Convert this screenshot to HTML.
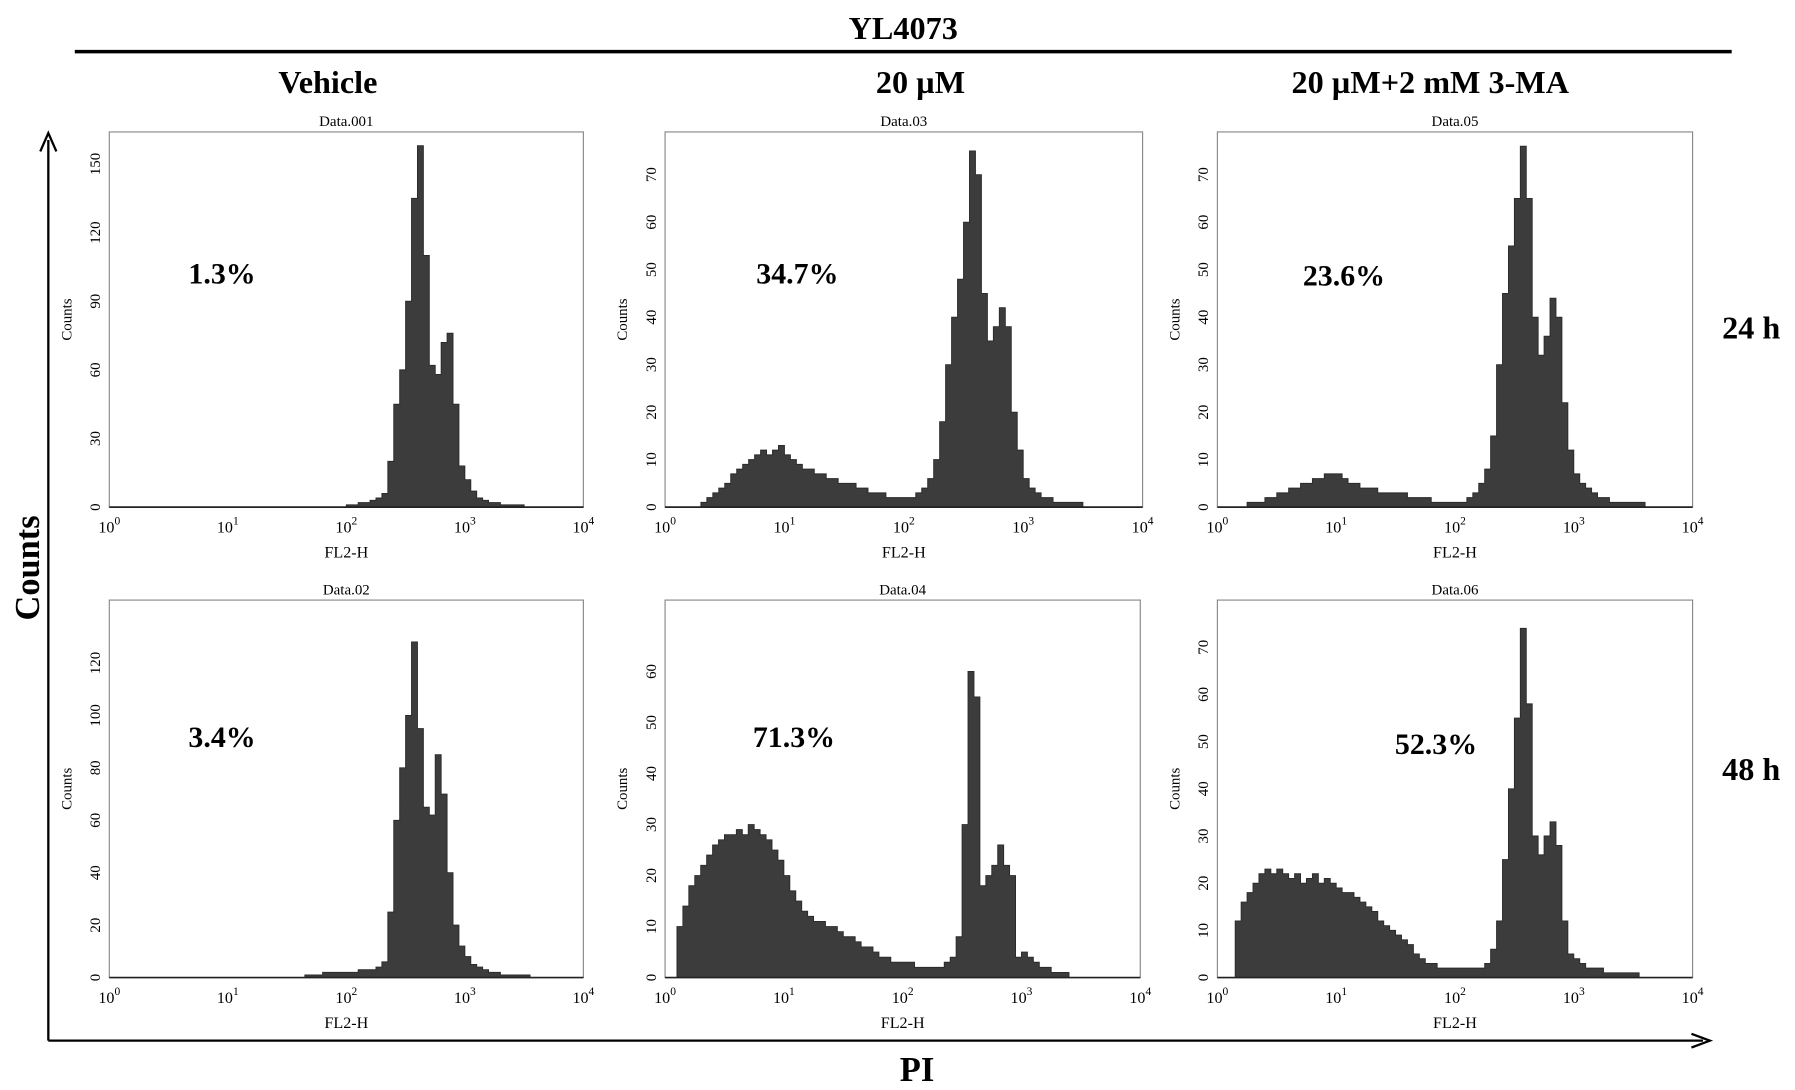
<!DOCTYPE html>
<html><head><meta charset="utf-8"><style>
html,body{margin:0;padding:0;background:#fff;}
svg{display:block;font-family:"Liberation Serif",serif;}
</style></head><body>
<svg id="fig" width="1795" height="1090" viewBox="0 0 1560 950" preserveAspectRatio="none">
<text x="785" y="34" text-anchor="middle" font-size="28" font-weight="bold">YL4073</text>
<line x1="65" y1="45" x2="1505" y2="45" stroke="#000" stroke-width="3"/>
<text x="285" y="81" text-anchor="middle" font-size="28" font-weight="bold">Vehicle</text>
<text x="800" y="81" text-anchor="middle" font-size="28" font-weight="bold">20 µM</text>
<text x="1243" y="81" text-anchor="middle" font-size="28" font-weight="bold">20 µM+2 mM 3-MA</text>
<text x="1522" y="295" text-anchor="middle" font-size="28" font-weight="bold">24 h</text>
<text x="1522" y="680" text-anchor="middle" font-size="28" font-weight="bold">48 h</text>
<line x1="42" y1="907" x2="42" y2="122" stroke="#000" stroke-width="2"/>
<path d="M35,132 L42,116 L49,132" fill="none" stroke="#000" stroke-width="2"/>
<line x1="42" y1="907" x2="1480" y2="907" stroke="#000" stroke-width="2"/>
<path d="M1470,901 L1486,907 L1470,913" fill="none" stroke="#000" stroke-width="2"/>
<text transform="translate(34,495) rotate(-90)" text-anchor="middle" font-size="30" font-weight="bold">Counts</text>
<text x="797" y="942" text-anchor="middle" font-size="30" font-weight="bold">PI</text>
<g id="panels"></g>
</svg>
<script>
const panelTitles = ["Data.001","Data.03","Data.05","Data.02","Data.04","Data.06"];
const panelPercents = ["1.3%","34.7%","23.6%","3.4%","71.3%","52.3%"];
const panelYMax = [164,79,79,144,74,80];
const panelYTickStep = [30,10,10,20,10,10];
const panelYTickMax = [150,70,70,120,60,70];
const xTickExponents = [0,1,2,3,4];
const binWidthDecades = 0.05;
const counts1 = [0,0,0,0,0,0,0,0,0,0,0,0,0,0,0,0,0,0,0,0,0,0,0,0,0,0,0,0,0,0,0,0,0,0,0,0,0,0,0,0,1,1,2,2,3,4,6,20,45,60,90,135,158,110,62,58,72,76,45,18,12,7,4,3,2,2,1,1,1,1,0,0,0,0,0,0,0,0,0,0];
const counts2 = [0,0,0,0,0,0,1,2,3,4,5,7,8,9,10,11,12,11,12,13,11,10,9,8,8,7,7,6,6,5,5,5,4,4,3,3,3,2,2,2,2,2,3,4,6,10,18,30,40,48,60,75,70,45,35,38,42,38,20,12,6,4,3,2,2,1,1,1,1,1,0,0,0,0,0,0,0,0,0,0];
const counts3 = [0,0,0,0,0,1,1,1,2,2,3,3,4,4,5,5,6,6,7,7,7,6,5,5,4,4,4,3,3,3,3,3,2,2,2,2,1,1,1,1,1,1,2,3,5,8,15,30,45,55,65,76,65,40,32,36,44,40,22,12,7,5,4,3,2,2,1,1,1,1,1,1,0,0,0,0,0,0,0,0];
const counts4 = [0,0,0,0,0,0,0,0,0,0,0,0,0,0,0,0,0,0,0,0,0,0,0,0,0,0,0,0,0,0,0,0,0,1,1,1,2,2,2,2,2,2,3,3,3,4,6,25,60,80,100,128,95,65,62,85,70,40,20,12,8,5,4,3,2,2,1,1,1,1,1,0,0,0,0,0,0,0,0,0];
const counts5 = [0,0,10,14,18,20,22,24,26,27,28,28,29,28,30,29,28,27,25,23,20,17,15,13,12,11,11,10,10,9,8,8,7,6,6,5,4,4,3,3,3,3,2,2,2,2,2,3,4,8,30,60,55,18,20,22,26,22,20,4,5,4,3,2,2,1,1,1,0,0,0,0,0,0,0,0,0,0,0,0];
const counts6 = [0,0,0,12,16,18,20,22,23,22,23,22,21,22,20,21,22,20,21,20,19,18,18,17,16,15,14,12,11,10,9,8,7,5,4,3,3,2,2,2,2,2,2,2,2,3,6,12,25,40,55,74,58,30,26,30,33,28,12,5,4,3,2,2,2,1,1,1,1,1,1,0,0,0,0,0,0,0,0,0];
const panelCounts = [counts1,counts2,counts3,counts4,counts5,counts6];

const boxes = [[95,115,412,327],[578,115,415,327],[1058,115,413,327],[95,523,412,329],[578,523,413,329],[1058,523,413,329]];
const pctPos = [[193,238],[693,238],[1168,240],[193,642],[690,642],[1248,648]];
const NS = "http://www.w3.org/2000/svg";
const root = document.getElementById('panels');
function mk(tag, attrs, parent){const e=document.createElementNS(NS,tag);for(const k in attrs)e.setAttribute(k,attrs[k]);parent.appendChild(e);return e;}

panelCounts.forEach((counts,p)=>{
  const [bx,by,bw,bh]=boxes[p];
  const xs = d => bx + d/4*bw;
  const ys = v => by + bh - v/panelYMax[p]*bh;
  const g = mk('g',{},root);
  
  
  const t = mk('text',{x:bx+bw/2,y:by-5,'text-anchor':'middle','font-size':13},g);
  t.textContent = panelTitles[p];
  
  
  // histogram area
  let d = 'M'+xs(0)+','+ys(0);
  counts.forEach((c,i)=>{
    d += ' L'+xs(i*binWidthDecades)+','+ys(c)+' L'+xs((i+1)*binWidthDecades)+','+ys(c);
  });
  d += ' L'+xs(4)+','+ys(0)+' Z';
  const area = mk('path',{d:d,fill:'#3c3c3c',stroke:'#2a2a2a','stroke-width':0.8},g);
  
  
  const box = mk('rect',{x:bx,y:by,width:bw,height:bh,fill:'none',stroke:'#888','stroke-width':1},g);
  
  
  const base = mk('line',{x1:bx,y1:by+bh,x2:bx+bw,y2:by+bh,stroke:'#222','stroke-width':1.5},g);
  
  
  // y ticks
  for(let v=0; v<=panelYTickMax[p]; v+=panelYTickStep[p]){
    const yt = mk('text',{transform:'translate('+(bx-8)+','+ys(v)+') rotate(-90)','text-anchor':'middle','font-size':13},g);
    yt.textContent = v;
    
    
  }
  const yl = mk('text',{transform:'translate('+(bx-33)+','+(by+bh/2)+') rotate(-90)','text-anchor':'middle','font-size':13},g);
  yl.textContent = 'Counts';
  
  
  // x ticks
  xTickExponents.forEach(e=>{
    const xt = mk('text',{x:xs(e),y:by+bh+22,'text-anchor':'middle','font-size':14},g);
    xt.textContent = '10';
    const sup = mk('tspan',{dy:-7,'font-size':10},xt);
    sup.textContent = e;
    
    
  });
  const xl = mk('text',{x:bx+bw/2,y:by+bh+44,'text-anchor':'middle','font-size':14},g);
  xl.textContent = 'FL2-H';
  
  
  const pc = mk('text',{x:pctPos[p][0],y:pctPos[p][1]+9,'text-anchor':'middle','font-size':26,'font-weight':'bold'},g);
  pc.textContent = panelPercents[p];
  
  
});
</script>
</body></html>
